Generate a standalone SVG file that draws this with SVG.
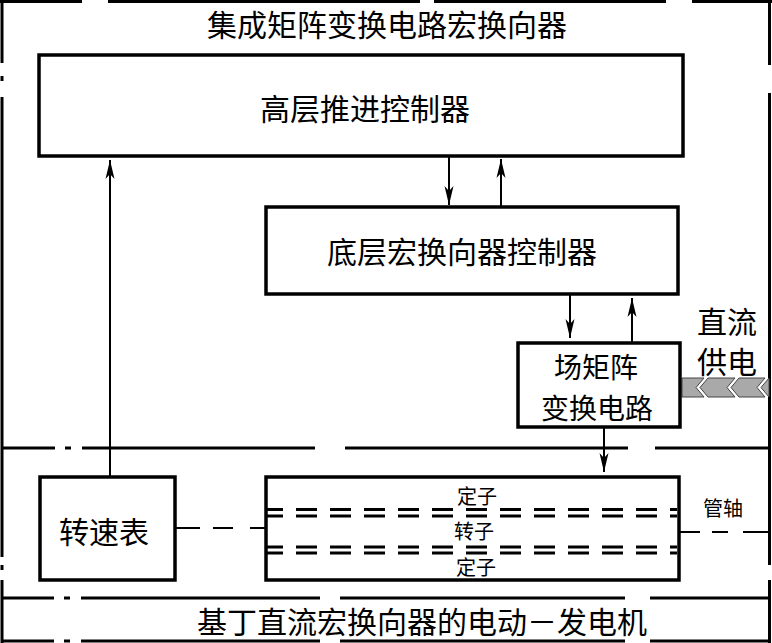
<svg xmlns="http://www.w3.org/2000/svg" width="772" height="643" viewBox="0 0 772 643">
<defs>
<style>
.frame{fill:none;stroke:#000;stroke-width:3}
.box{fill:#fff;stroke:#000;stroke-width:3.5}
.conn{fill:none;stroke:#000;stroke-width:2}
.t{font-family:"Noto Sans CJK SC","Noto Sans CJK JP",sans-serif;fill:#000;text-anchor:middle;dominant-baseline:central}
.big{font-size:30px}
.mid{font-size:28px}
.small{font-size:20px}
.rail{fill:none;stroke:#000;stroke-width:3;stroke-dasharray:21 13;stroke-dashoffset:5}
.chev{fill:#a9a9a9;stroke:#444;stroke-width:1}
</style>
<marker id="ah" markerUnits="userSpaceOnUse" markerWidth="22" markerHeight="12" viewBox="-20 -6 22 12" refX="0" refY="0" orient="auto">
<path d="M0,0 L-19,-4.5 L-14,0 L-19,4.5 Z" fill="#000"/>
</marker>
</defs>
<rect width="772" height="643" fill="#fff"/>

<g id="frame">
<path class="frame" d="M0,1.5H82 M108,1.5H420 M434,1.5H666 M692,1.5H772"/>
<path class="frame" d="M2,0V63 M2,76V81 M2,97V557 M2,565V570 M2,580V643"/>
<path class="frame" d="M769.5,0V65 M769.5,93V565 M769.5,580V643"/>
<path class="frame" d="M2,448H55 M65,448H71 M82,448H315 M345,448H628 M655,448H770"/>
<path class="frame" d="M2,598H54 M64,598H70 M81,598H320 M340,598H625 M650,598H770"/>
<path class="frame" d="M2,641H54 M64,641H70 M81,641H320 M340,641H625 M650,641H770"/>
<text class="t big" x="387" y="23">集成矩阵变换电路宏换向器</text>
<text class="t big" x="422" y="620">基丁直流宏换向器的电动－发电机</text>
</g>

<g id="connectors">
<line class="conn" x1="110" y1="477" x2="110" y2="160" marker-end="url(#ah)"/>
<line class="conn" x1="449" y1="157" x2="449" y2="205" marker-end="url(#ah)"/>
<line class="conn" x1="501" y1="207" x2="501" y2="159" marker-end="url(#ah)"/>
<line class="conn" x1="570" y1="295" x2="570" y2="338" marker-end="url(#ah)"/>
<line class="conn" x1="632" y1="343" x2="632" y2="298" marker-end="url(#ah)"/>
<line class="conn" x1="604" y1="428" x2="604" y2="472" marker-end="url(#ah)"/>
<path class="conn" d="M176,528H200 M213,528H233 M250,528H266"/>
<path class="conn" d="M680,532H700 M712,532H728 M743,532H769"/>
</g>

<g id="power">
<polygon class="chev" points="682,378 704,378 696,387.5 704,397 682,397"/>
<polygon class="chev" points="708,378 735,378 727,387.5 735,397 708,397 700,387.5"/>
<polygon class="chev" points="739,378 765,378 757,387.5 765,397 739,397 731,387.5"/>
<polygon class="chev" points="769,378 769,397 761,387.5"/>
<text class="t big" x="727" y="320">直流</text>
<text class="t big" x="727" y="360">供电</text>
</g>

<g id="high-controller">
<rect class="box" x="39" y="55" width="644" height="101"/>
<text class="t big" x="365" y="107">高层推进控制器</text>
</g>

<g id="low-controller">
<rect class="box" x="266" y="207" width="412" height="87"/>
<text class="t big" x="462" y="250">底层宏换向器控制器</text>
</g>

<g id="matrix-circuit">
<rect class="box" x="518" y="343" width="162" height="84"/>
<text class="t mid" x="596" y="366">场矩阵</text>
<text class="t mid" x="597" y="407">变换电路</text>
</g>

<g id="tachometer">
<rect class="box" x="40" y="477" width="135" height="103"/>
<text class="t big" x="104" y="530">转速表</text>
</g>

<g id="motor">
<rect class="box" x="266" y="477" width="413" height="103"/>
<path class="rail" d="M267,509.5H677 M267,516H677 M267,547H677 M267,553H677"/>
<text class="t small" x="477" y="495">定子</text>
<text class="t small" x="474" y="530">转子</text>
<text class="t small" x="476" y="566">定子</text>
</g>

<g id="shaft-label">
<text class="t small" x="723" y="507">管轴</text>
</g>
</svg>
